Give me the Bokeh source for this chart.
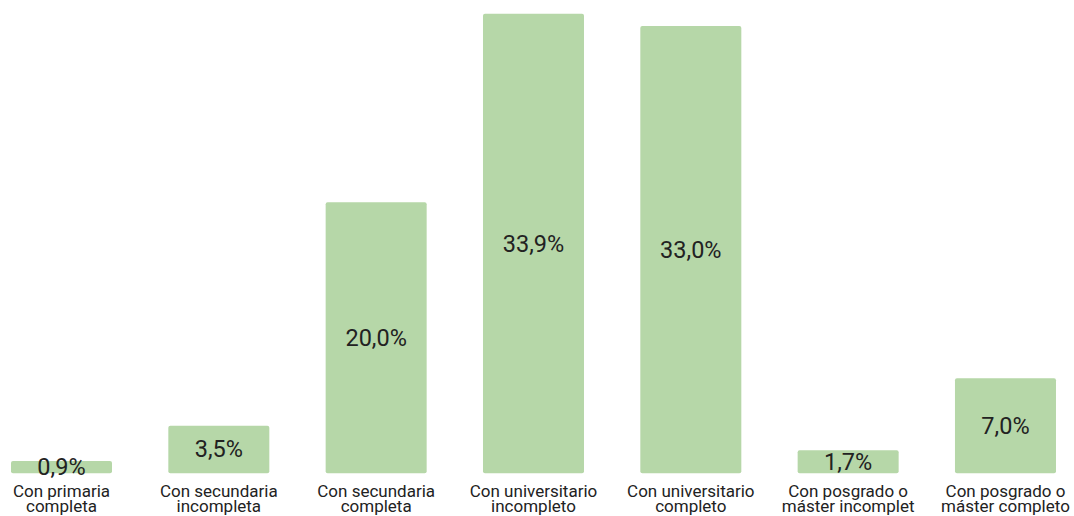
from bokeh.plotting import figure
from bokeh.models import Range1d, ColumnDataSource
from bokeh.core.properties import value
from bokeh.embed import file_html
from bokeh.resources import INLINE

categories = [
    "Con primaria\ncompleta",
    "Con secundaria\nincompleta",
    "Con secundaria\ncompleta",
    "Con universitario\nincompleto",
    "Con universitario\ncompleto",
    "Con posgrado o\nmáster incomplet",
    "Con posgrado o\nmáster completo",
]
values = [0.9, 3.5, 20.0, 33.9, 33.0, 1.7, 7.0]

PX_PER_UNIT = 13.55               # vertical scale (pixels per percentage point)
BASE_PX = 472.7                   # baseline position from the top
LINE1_PX, LINE2_PX = 18.0, 33.0   # category label line centres below the bar baseline

xs = list(range(len(values)))
labels = [f"{v:.1f}".replace(".", ",") + "%" for v in values]
line1 = [c.split("\n")[0] for c in categories]
line2 = [c.split("\n")[1] for c in categories]
src = ColumnDataSource(dict(
    x=xs, top=values, mid=[v / 2 for v in values], lab=labels,
    l1=line1, l2=line2,
    y1=[-LINE1_PX / PX_PER_UNIT] * len(xs), y2=[-LINE2_PX / PX_PER_UNIT] * len(xs),
))

p = figure(width=1074, height=516, output_backend="svg", toolbar_location=None,
           x_range=Range1d(-0.3877, 6.4387),
           y_range=Range1d(-(516 - BASE_PX) / PX_PER_UNIT, BASE_PX / PX_PER_UNIT),
           min_border_left=0, min_border_right=0, min_border_top=0, min_border_bottom=0)
p.outline_line_color = None
p.background_fill_color = "white"
p.border_fill_color = "white"
p.grid.visible = False
p.xaxis.visible = False
p.yaxis.visible = False

p.vbar(x="x", top="top", bottom=0, width=0.642, source=src,
       fill_color="#b6d7a8", line_color=None, border_radius=2)
p.text(x="x", y="mid", text="lab", source=src, text_align="center",
       text_baseline="middle", text_font=value("Roboto"), text_font_size="23.5px",
       text_color="#222222")
for col_t, col_y in (("l1", "y1"), ("l2", "y2")):
    p.text(x="x", y=col_y, text=col_t, source=src, text_align="center",
           text_baseline="middle", text_font=value("Roboto"), text_font_size="17px",
           text_color="#222222")

open("out.html", "w").write(file_html(p, INLINE))
